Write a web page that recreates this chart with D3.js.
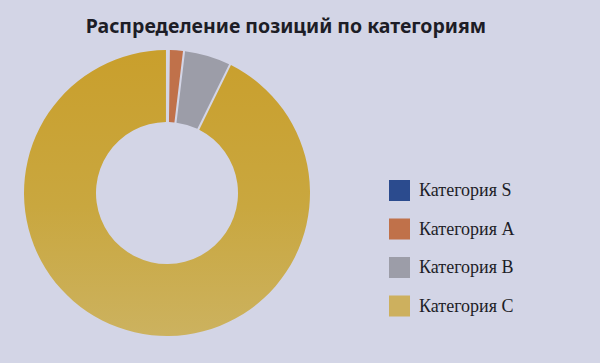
<!DOCTYPE html>
<html>
<head>
<meta charset="utf-8">
<script src="https://cdn.jsdelivr.net/npm/d3@7"></script>
<style>
  body { margin: 0; background: #d3d5e6; }
</style>
</head>
<body>
<div id="viz"></div>
<script>
const width = 600;
const height = 363;

const title = 'Распределение позиций по категориям';
const categories = ['Категория S', 'Категория A', 'Категория B', 'Категория C'];
const shares = [0, 1.5, 5.2, 93.3];
const colors = ['#2b4b8e', '#c0714a', '#9c9da8', '#cdb05e'];

const cx = 167, cy = 193;
const outerRadius = 143;
const innerRadius = 71;

const data = categories.map((name, i) => ({ name, value: shares[i], color: colors[i] }));

const svg = d3.select('#viz').append('svg')
  .attr('width', width)
  .attr('height', height)
  .style('display', 'block');

svg.append('rect')
  .attr('width', width)
  .attr('height', height)
  .attr('fill', '#d3d5e6');

// the big C slice is a little darker at the top
svg.append('defs')
  .html(`<linearGradient id="goldGrad" gradientUnits="userSpaceOnUse" x1="0" y1="${-outerRadius}" x2="0" y2="${outerRadius}">
           <stop offset="0%" stop-color="#c99f2c"/>
           <stop offset="55%" stop-color="#c9a73f"/>
           <stop offset="100%" stop-color="#ccb25f"/>
         </linearGradient>`);

svg.append('text')
  .attr('x', 286)
  .attr('y', 33)
  .attr('text-anchor', 'middle')
  .attr('font-family', 'Noto Sans')
  .attr('font-weight', 700)
  .attr('font-size', 19.5)
  .attr('fill', '#1d1d26')
  .text(title);

const pie = d3.pie()
  .sort(null)
  .padAngle(0.013)
  .value(d => d.value);

const arc = d3.arc()
  .innerRadius(innerRadius)
  .outerRadius(outerRadius);

const g = svg.append('g')
  .attr('transform', `translate(${cx},${cy})`);

g.selectAll('path')
  .data(pie(data).filter(d => d.data.value > 0))
  .enter()
  .append('path')
  .attr('d', arc)
  .attr('fill', d => d.data.name === 'Категория C' ? 'url(#goldGrad)' : d.data.color);

const legend = svg.append('g')
  .attr('transform', 'translate(389,180)');

const item = legend.selectAll('g')
  .data(data)
  .enter()
  .append('g')
  .attr('transform', (d, i) => `translate(0,${i * 38.5})`);

item.append('rect')
  .attr('width', 21)
  .attr('height', 21)
  .attr('fill', d => d.color);

item.append('text')
  .attr('x', 30)
  .attr('y', 16)
  .attr('font-family', 'Liberation Serif')
  .attr('font-size', 18)
  .attr('fill', '#1d1d26')
  .text(d => d.name);
</script>
</body>
</html>
